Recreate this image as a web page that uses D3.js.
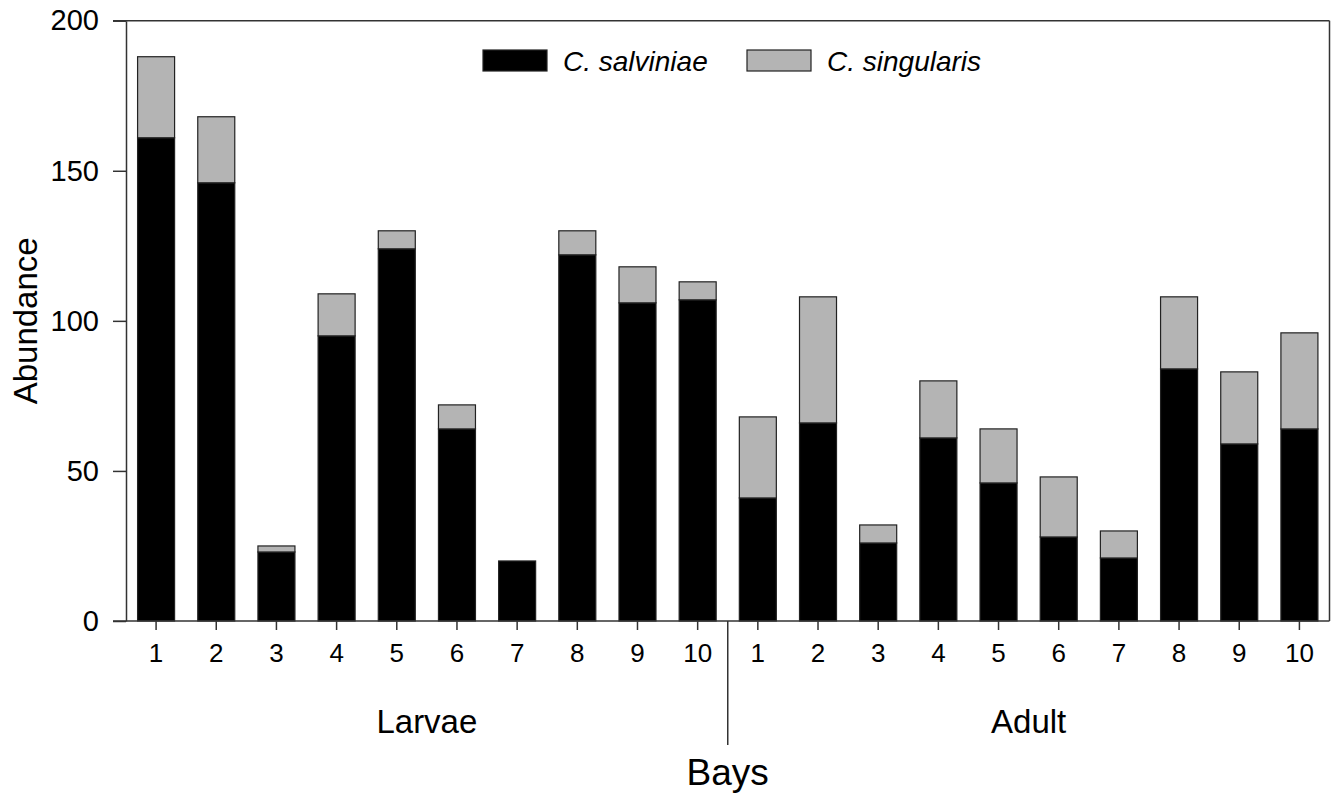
<!DOCTYPE html>
<html>
<head>
<meta charset="utf-8">
<script src="https://cdn.jsdelivr.net/npm/d3@7"></script>
<style>
  html, body { margin: 0; padding: 0; background: #fff; }
  svg { display: block; font-family: Arial, "Liberation Sans", sans-serif; }
</style>
</head>
<body>
<svg id="chart" width="1331" height="794"></svg>
<script>
// ---- data ----
const bays = ["1","2","3","4","5","6","7","8","9","10"];
const stages = ["Larvae", "Adult"];
const larvaeSalviniae = [161, 146, 23, 95, 124, 64, 20, 122, 106, 107];
const larvaeSingularis = [27, 22, 2, 14, 6, 8, 0, 8, 12, 6];
const adultSalviniae = [41, 66, 26, 61, 46, 28, 21, 84, 59, 64];
const adultSingularis = [27, 42, 6, 19, 18, 20, 9, 24, 24, 32];
const seriesNames = ["C. salviniae", "C. singularis"];
const yTicks = [0, 50, 100, 150, 200];

(function () {
// build rows
const rows = [];
stages.forEach((st, si) => {
  const a = si === 0 ? larvaeSalviniae : adultSalviniae;
  const b = si === 0 ? larvaeSingularis : adultSingularis;
  bays.forEach((bay, i) => rows.push({ key: st + "-" + bay, stage: st, bay, sal: a[i], sing: b[i] }));
});

const svg = d3.select("#chart");
const pLeft = 126, pRight = 1329.5, pTop = 20.7, pBottom = 621;

const x = d3.scaleBand().domain(rows.map(d => d.key)).range([pLeft, pRight])
  .paddingInner(0.385).paddingOuter(0.1925);
const y = d3.scaleLinear().domain([0, 200]).range([pBottom, pTop]);

const axisColor = "#333";
const stack = d3.stack().keys(["sal", "sing"])(rows);
const fills = ["#000000", "#b4b4b4"];

// bars
stack.forEach((layer, li) => {
  svg.append("g").selectAll("rect").data(layer).join("rect")
    .attr("x", d => x(d.data.key))
    .attr("width", x.bandwidth())
    .attr("y", d => y(d[1]))
    .attr("height", d => Math.max(0, y(d[0]) - y(d[1])))
    .attr("fill", fills[li])
    .attr("stroke", "#222")
    .attr("stroke-width", d => (d[1] - d[0]) > 0 ? 1.2 : 0);
});

// frame: top and right
svg.append("line").attr("x1", 113).attr("x2", pRight).attr("y1", pTop).attr("y2", pTop)
  .attr("stroke", axisColor).attr("stroke-width", 1.5);
svg.append("line").attr("x1", pRight).attr("x2", pRight).attr("y1", pTop).attr("y2", pBottom)
  .attr("stroke", axisColor).attr("stroke-width", 1.5);

// y axis
const yAxis = svg.append("g").attr("transform", `translate(${pLeft},0)`)
  .call(d3.axisLeft(y).tickValues(yTicks).tickSize(13).tickPadding(14).tickSizeOuter(0));
yAxis.select(".domain").attr("stroke", axisColor).attr("stroke-width", 1.5);
yAxis.selectAll(".tick line").attr("stroke", axisColor).attr("stroke-width", 1.5);
yAxis.selectAll(".tick text").attr("font-size", 29).attr("fill", "#000")
  .attr("font-family", "Arial, 'Liberation Sans', sans-serif");

// x axis
const xAxis = svg.append("g").attr("transform", `translate(0,${pBottom})`)
  .call(d3.axisBottom(x).tickFormat(k => k.split("-")[1]).tickSize(9).tickPadding(14).tickSizeOuter(0));
xAxis.select(".domain").remove();
xAxis.selectAll(".tick line").attr("stroke", axisColor).attr("stroke-width", 1.5);
xAxis.selectAll(".tick text").attr("font-size", 26).attr("fill", "#000")
  .attr("font-family", "Arial, 'Liberation Sans', sans-serif");
svg.append("line").attr("x1", 113).attr("x2", pRight).attr("y1", pBottom).attr("y2", pBottom)
  .attr("stroke", axisColor).attr("stroke-width", 1.5);

// separator between groups
const sepX = (x("Larvae-10") + x.bandwidth() + x("Adult-1")) / 2;
svg.append("line").attr("x1", sepX).attr("x2", sepX).attr("y1", pBottom).attr("y2", 745)
  .attr("stroke", axisColor).attr("stroke-width", 1.5);

// group labels
stages.forEach(st => {
  const c1 = x(st + "-1") + x.bandwidth() / 2, c2 = x(st + "-10") + x.bandwidth() / 2;
  svg.append("text").attr("x", (c1 + c2) / 2).attr("y", 733)
    .attr("text-anchor", "middle").attr("font-size", 33).text(st);
});

// axis titles
svg.append("text").attr("x", sepX).attr("y", 785).attr("text-anchor", "middle")
  .attr("font-size", 37).text("Bays");
svg.append("text").attr("transform", `translate(37,${(pTop + pBottom) / 2}) rotate(-90)`)
  .attr("text-anchor", "middle").attr("font-size", 33).text("Abundance");

// legend
const legX = [483, 747];
seriesNames.forEach((name, i) => {
  svg.append("rect").attr("x", legX[i]).attr("y", 50).attr("width", 64).attr("height", 21)
    .attr("fill", fills[i]).attr("stroke", "#222").attr("stroke-width", 1.2);
  svg.append("text").attr("x", legX[i] + 80).attr("y", 71).attr("font-size", 28)
    .attr("font-style", "italic").text(name);
});
})();
</script>
</body>
</html>
